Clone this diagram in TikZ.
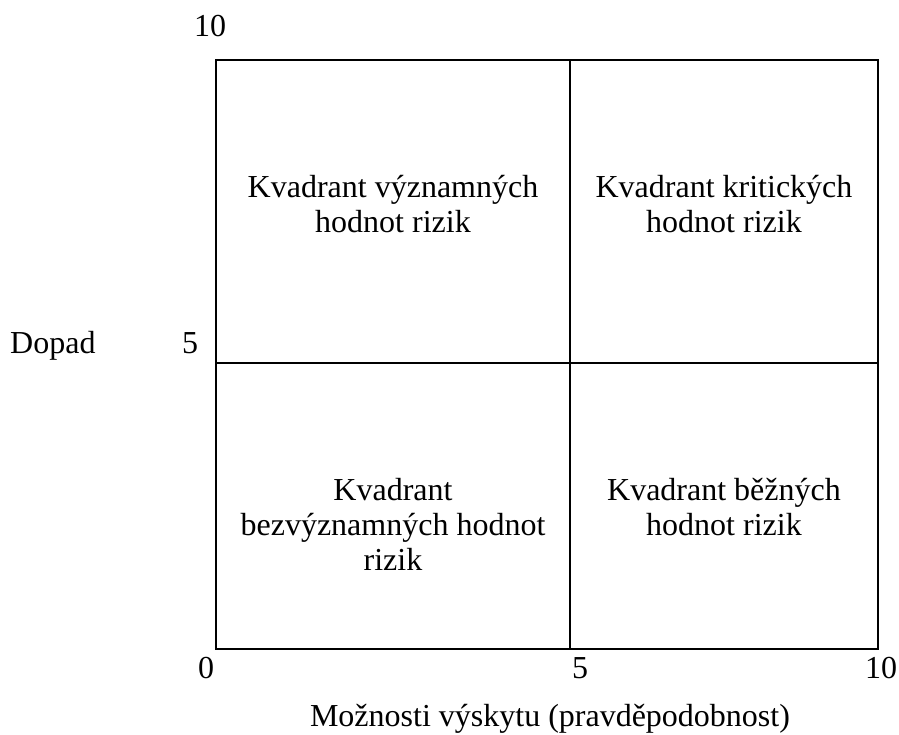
\documentclass[tikz,border=0pt]{standalone}
\usepackage{fontspec}
\setmainfont{Liberation Serif}
\begin{document}
\begin{tikzpicture}[x=1pt,y=-1pt,
    lbl/.style={font=\fontsize{32}{35}\selectfont, inner sep=0pt},
    quad/.style={lbl, align=center, anchor=north}]
  \useasboundingbox (0,0) rectangle (899,735);
  \draw[line width=2.3pt] (216,60) rectangle (878,649);
  \draw[line width=2.3pt] (570,60) -- (570,649);
  \draw[line width=2.3pt] (216,363) -- (878,363);
  \node[quad] (tl) at (393,175) {Kvadrant významných\\hodnot rizik};
  \node[quad] (tr) at (724,175) {Kvadrant kritických\\hodnot rizik};
  \node[quad] (bl) at (393,478) {Kvadrant\\bezvýznamných hodnot\\rizik};
  \node[quad] (br) at (724,478) {Kvadrant běžných\\hodnot rizik};
  % osa y
  \node[lbl, anchor=base] (y10) at (210,37) {10};
  \node[lbl, anchor=base] (y5) at (190,353) {5};
  \node[lbl, anchor=base west] (ylab) at (10,353) {Dopad};
  % osa x
  \node[lbl, anchor=base] (x0) at (206,678) {0};
  \node[lbl, anchor=base] (x5) at (580,678) {5};
  \node[lbl, anchor=base] (x10) at (881,678) {10};
  \node[lbl, anchor=base] (xlab) at (550,726) {Možnosti výskytu (pravděpodobnost)};
\end{tikzpicture}
\end{document}
